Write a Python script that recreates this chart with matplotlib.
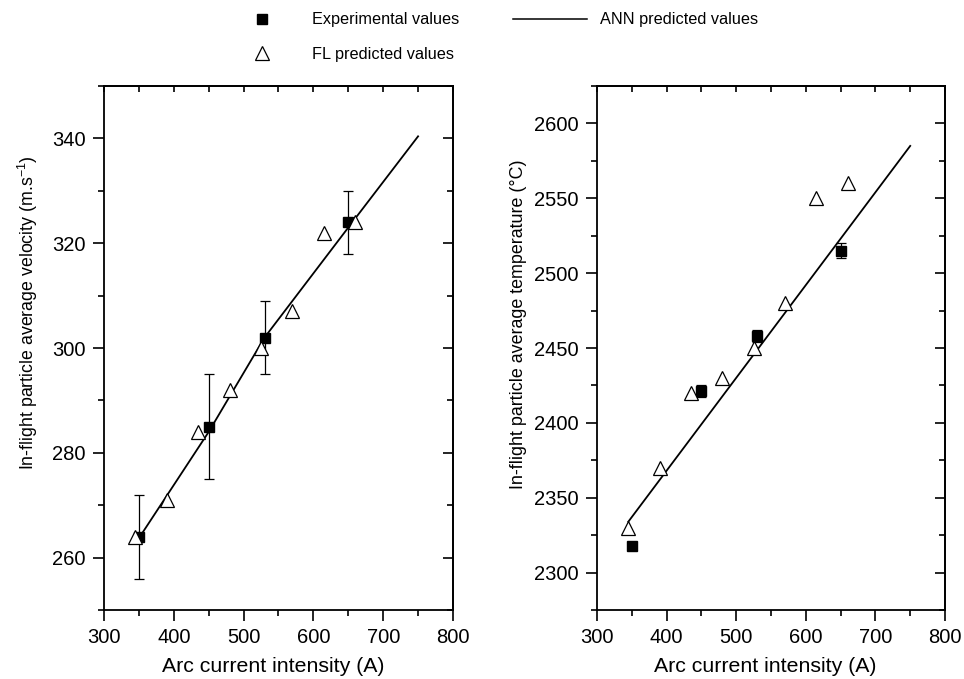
import matplotlib
matplotlib.use("Agg")
import matplotlib.pyplot as plt
from matplotlib.lines import Line2D
from matplotlib.ticker import MultipleLocator

plt.rcParams['font.family'] = ['Liberation Sans', 'DejaVu Sans']

# arc current (A) of the measured runs
exp_current = [350, 450, 530, 650]
exp_velocity = [264, 285, 302, 324]
exp_velocity_err = [8, 10, 7, 6]
exp_temperature = [2318, 2421, 2458, 2515]
exp_temperature_err = [0, 4, 4, 5]

# fuzzy logic predictions
fl_current = [345, 390, 435, 480, 525, 570, 615, 660]
fl_velocity = [264, 271, 284, 292, 300, 307, 322, 324]
fl_temperature = [2330, 2370, 2420, 2430, 2450, 2480, 2550, 2560]

# neural network curves
ann_current_v = [345, 450, 530, 650, 750]
ann_velocity = [262.7, 284, 302, 323, 340.4]
ann_current_t = [345, 750]
ann_temperature = [2334, 2585]

fig = plt.figure(figsize=(9.64, 6.79), dpi=100)
ax1 = fig.add_axes([0.1079, 0.1016, 0.3620, 0.7717])
ax2 = fig.add_axes([0.6193, 0.1016, 0.3610, 0.7717])


def style_axes(ax):
    for s in ax.spines.values():
        s.set_linewidth(1.3)
    ax.tick_params(which='both', direction='out', top=False, right=False,
                   width=1.2, labelsize=14.5, pad=5)
    ax.tick_params(which='major', length=8)
    ax.tick_params(which='minor', length=4.3)
    sec = ax.secondary_xaxis('top')
    sec.xaxis.set_major_locator(MultipleLocator(100))
    sec.xaxis.set_minor_locator(MultipleLocator(50))
    sec.tick_params(which='both', direction='in', labeltop=False,
                    width=1.2, length=4.5)
    sec.spines['top'].set_linewidth(1.3)
    sec2 = ax.secondary_yaxis('right')
    sec2.yaxis.set_major_locator(ax.yaxis.get_major_locator())
    sec2.yaxis.set_minor_locator(ax.yaxis.get_minor_locator())
    sec2.tick_params(which='major', direction='in', labelright=False,
                     width=1.2, length=7.5)
    sec2.tick_params(which='minor', direction='in', labelright=False,
                     width=1.2, length=4.5)
    sec2.spines['right'].set_linewidth(1.3)


# left panel: velocity
ax1.plot(ann_current_v, ann_velocity, color='black', lw=1.3, zorder=2)
ax1.errorbar(exp_current, exp_velocity, yerr=exp_velocity_err, fmt='s',
             color='black', ms=7.5, ecolor='black', elinewidth=0.9,
             capsize=3.6, capthick=0.9, zorder=3)
ax1.plot(fl_current, fl_velocity, '^', ms=9.5, mfc='white', mec='black',
         mew=0.9, zorder=4)
ax1.set_xlim(300, 800)
ax1.set_ylim(250, 350)
ax1.xaxis.set_major_locator(MultipleLocator(100))
ax1.xaxis.set_minor_locator(MultipleLocator(50))
ax1.yaxis.set_major_locator(MultipleLocator(20))
ax1.yaxis.set_minor_locator(MultipleLocator(10))
style_axes(ax1)
ax1.set_xlabel('Arc current intensity (A)', fontsize=15.3)
ax1.set_ylabel('In-flight particle average velocity (m.s$^{\\mathregular{-1}}$)',
               fontsize=12.8)
ax1.xaxis.set_label_coords(0.484, -0.108)
ax1.yaxis.set_label_coords(-0.218, 0.567)
ax1.xaxis.label.set_va('center')
ax1.yaxis.label.set_va('center')

# right panel: temperature
ax2.plot(ann_current_t, ann_temperature, color='black', lw=1.3, zorder=2)
ax2.errorbar(exp_current, exp_temperature, yerr=exp_temperature_err, fmt='s',
             color='black', ms=7.5, ecolor='black', elinewidth=0.9,
             capsize=3.6, capthick=0.9, zorder=3)
ax2.plot(fl_current, fl_temperature, '^', ms=9.5, mfc='white', mec='black',
         mew=0.9, zorder=4)
ax2.set_xlim(300, 800)
ax2.set_ylim(2275, 2625)
ax2.xaxis.set_major_locator(MultipleLocator(100))
ax2.xaxis.set_minor_locator(MultipleLocator(50))
ax2.yaxis.set_major_locator(MultipleLocator(50))
ax2.yaxis.set_minor_locator(MultipleLocator(25))
style_axes(ax2)
ax2.set_xlabel('Arc current intensity (A)', fontsize=15.3)
ax2.set_ylabel('In-flight particle average temperature (°C)', fontsize=12.9)
ax2.xaxis.set_label_coords(0.484, -0.108)
ax2.yaxis.set_label_coords(-0.227, 0.546)
ax2.xaxis.label.set_va('center')
ax2.yaxis.label.set_va('center')

handles = [
    Line2D([], [], ls='none', marker='s', ms=7, color='black'),
    Line2D([], [], ls='none', marker='^', ms=9.5, mfc='white', mec='black', mew=0.9),
    Line2D([], [], color='black', lw=1.1),
]
labels = ['Experimental values', 'FL predicted values', 'ANN predicted values']
fig.legend(handles, labels, loc='center', bbox_to_anchor=(0.510, 0.9455),
           ncol=2, frameon=False, fontsize=11.7, handlelength=4.55,
           handletextpad=0.8, columnspacing=3.3, labelspacing=1.2, borderpad=0)

fig.savefig('out.png', dpi=100)
